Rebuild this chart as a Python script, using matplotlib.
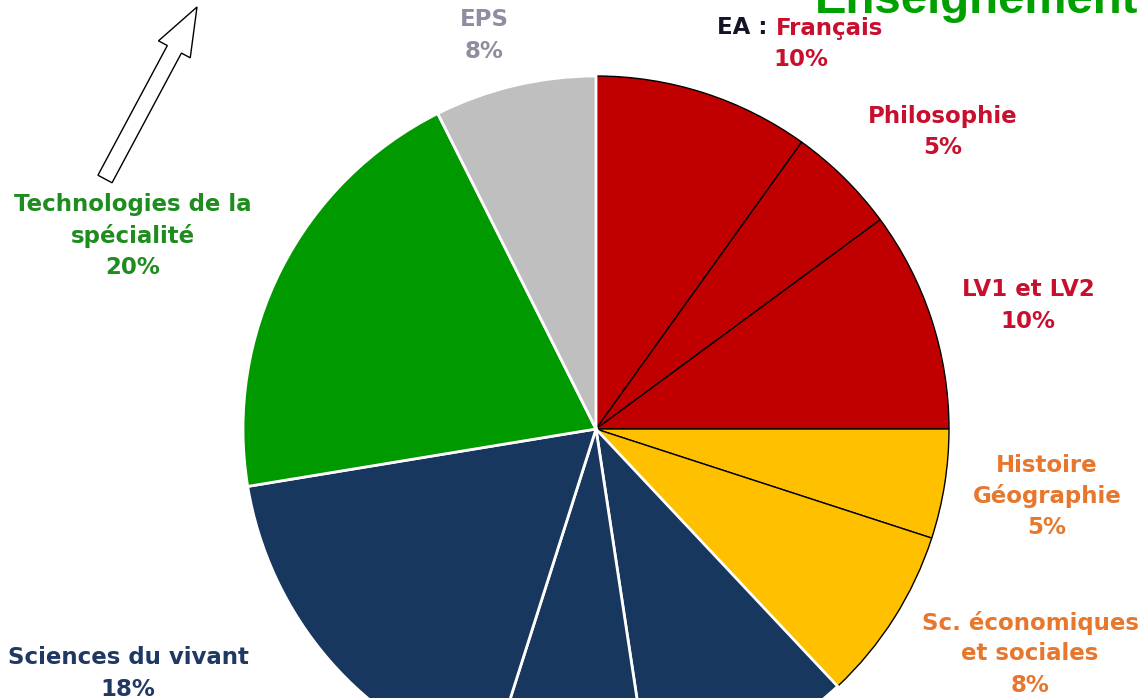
import matplotlib
matplotlib.use("Agg")
import matplotlib.pyplot as plt
from matplotlib.patches import FancyArrow

# wedge shares (clockwise from 12 o'clock);
# two navy slices run off the bottom of the picture, their labels are not visible
subjects = ["EA : Français", "Philosophie", "LV1 et LV2", "Histoire Géographie",
            "Sc. économiques et sociales", "(hidden 1)", "(hidden 2)",
            "Sciences du vivant", "Technologies de la spécialité", "EPS"]
shares = [9.9, 5.0, 10.1, 5.0, 8.0, 9.6, 7.3, 17.5, 20.2, 7.4]
pct_labels = ["10%", "5%", "10%", "5%", "8%", "", "", "18%", "20%", "8%"]
colors = ["#C00000", "#C00000", "#C00000", "#FFC000", "#FFC000",
          "#17375E", "#17375E", "#17375E", "#009900", "#BFBFBF"]
edges = ["black"] * 5 + ["white"] * 5

W, H = 1145, 698
fig = plt.figure(figsize=(W / 100, H / 100), dpi=100)
ax = fig.add_axes([0, 0, 1, 1])

cx, cy, R = 596, H - 429, 353
wedges, _ = ax.pie(shares, colors=colors, startangle=90, counterclock=False,
                   center=(cx, cy), radius=R)
for w, ec in zip(wedges, edges):
    w.set_edgecolor(ec)
    w.set_linewidth(1.0 if ec == "black" else 2.0)

ax.set_xlim(0, W)
ax.set_ylim(0, H)
ax.set_aspect("auto")
ax.axis("off")

RED, ORANGE, NAVY, GREEN, GREY = "#C8102E", "#E8772E", "#1F3864", "#1E8C1E", "#8E8EA0"
fs = 16.5


def label(x, y, lines, color):
    for i, s in enumerate(lines):
        ax.text(x, H - (y + 31 * i), s, color=color, fontsize=fs, fontweight="bold",
                ha="center", va="center")


# EA : Français in two colours
ax.text(767, H - 28, "EA :", color="#141428", fontsize=fs, fontweight="bold",
        ha="right", va="center")
ax.text(776, H - 28, "Français", color=RED, fontsize=fs, fontweight="bold",
        ha="left", va="center")
label(801, 60, [pct_labels[0]], RED)
label(943, 117, ["Philosophie", pct_labels[1]], RED)
label(1028, 290, ["LV1 et LV2", pct_labels[2]], RED)
label(1047, 465, ["Histoire", "Géographie", pct_labels[3]], ORANGE)
label(1030, 623, ["Sc. économiques", "et sociales", pct_labels[4]], ORANGE)
label(128, 658, ["Sciences du vivant", pct_labels[7]], NAVY)
label(133, 205, ["Technologies de la", "spécialité", pct_labels[8]], GREEN)
label(484, 20, ["EPS", pct_labels[9]], GREY)

ax.text(815, H - 13, "Enseignement", color="#00A000", fontsize=34, fontweight="bold",
        family="Liberation Sans", ha="left", va="baseline")

ax.add_patch(FancyArrow(105, H - 179, 92, 172, width=16, head_width=36, head_length=48,
                        length_includes_head=True, fc="white", ec="black", lw=1))

fig.savefig("out.png", dpi=100)
